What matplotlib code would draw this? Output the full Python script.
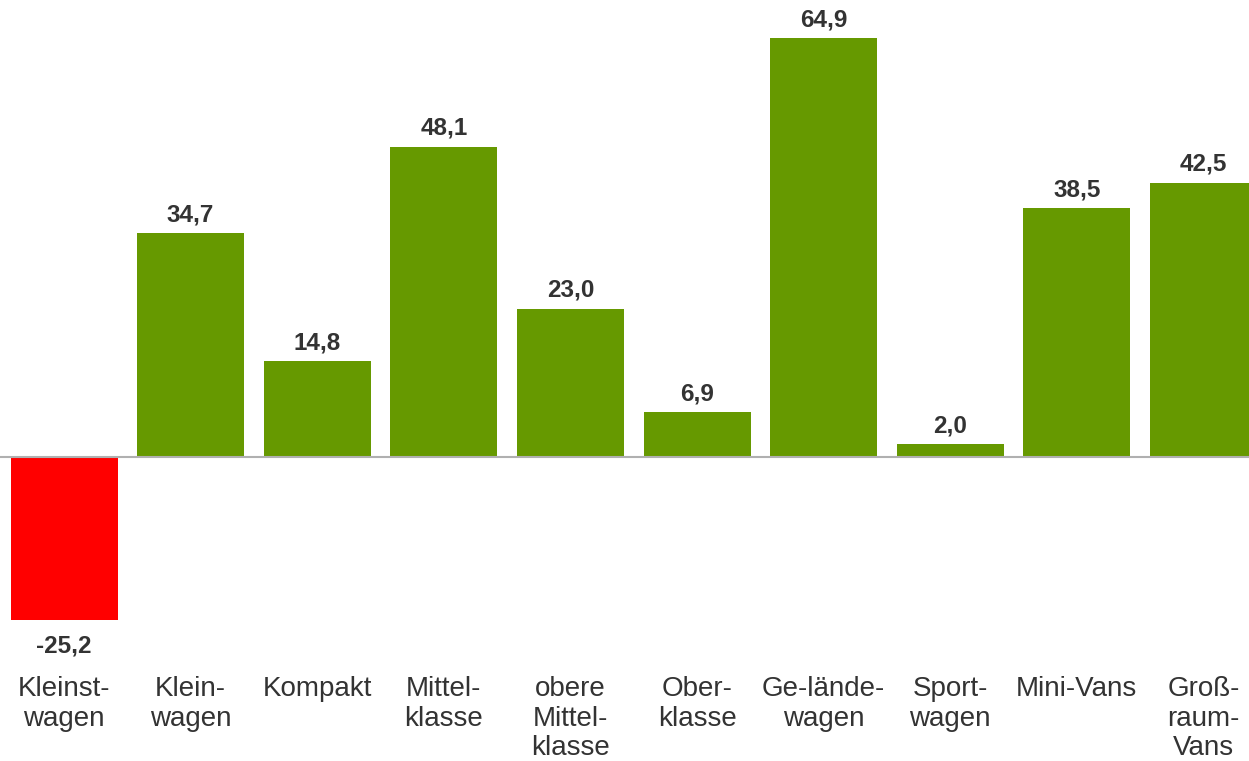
import matplotlib
matplotlib.use("Agg")
import matplotlib.pyplot as plt

categories = ["Kleinst-\nwagen", "Klein-\nwagen", "Kompakt", "Mittel-\nklasse",
              "obere\nMittel-\nklasse", "Ober-\nklasse", "Ge-lände-\nwagen",
              "Sport-\nwagen", "Mini-Vans", "Groß-\nraum-\nVans"]
values = [-25.2, 34.7, 14.8, 48.1, 23.0, 6.9, 64.9, 2.0, 38.5, 42.5]

plt.rcParams['font.family'] = ['Liberation Sans', 'DejaVu Sans']

fig = plt.figure(figsize=(12.49, 7.61), dpi=100)
ax = fig.add_axes([0, 0, 1, 1])

colors = ['#ff0000' if v < 0 else '#669900' for v in values]
x = list(range(len(values)))
ax.bar(x, values, width=0.845, color=colors, zorder=2)
ax.axhline(0, color='#b0b0b0', lw=1.5, zorder=3)

ax.set_xlim(-0.506, 9.36)
ax.set_ylim(-47.1, 70.8)
ax.axis('off')

for xi, v in zip(x, values):
    label = f"{v:.1f}".replace('.', ',')
    if v >= 0:
        ax.annotate(label, (xi, v), xytext=(0, 5), textcoords='offset points',
                    ha='center', va='bottom', fontsize=17.5, fontweight='bold', color='#333333')
    else:
        ax.annotate(label, (xi, v), xytext=(0, -11), textcoords='offset points',
                    ha='center', va='top', fontsize=17.5, fontweight='bold', color='#333333')

for xi, cat in zip(x, categories):
    ax.text(xi, -33.9, cat, ha='center', va='top', fontsize=20, color='#333333',
            linespacing=1.19)

fig.savefig("out.png", dpi=100)
